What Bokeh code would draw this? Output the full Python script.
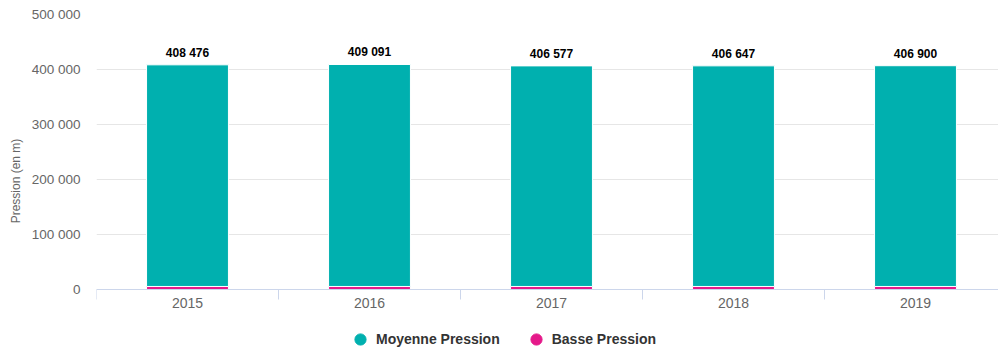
import numpy as np
from bokeh.plotting import figure
from bokeh.models import (ColumnDataSource, FixedTicker, CustomJSTickFormatter,
                          Legend, LegendItem, Range1d, LinearAxis)
from bokeh.core.properties import value
from bokeh.embed import file_html
from bokeh.resources import INLINE

years = [2015, 2016, 2017, 2018, 2019]
moyenne = [402976, 403591, 401077, 401147, 401400]
basse = [5500, 5500, 5500, 5500, 5500]
totals = [408476, 409091, 406577, 406647, 406900]
y_ticks = [0, 100000, 200000, 300000, 400000, 500000]

TEAL = "#00b0af"
PINK = "#e5198a"
FONT = "Liberation Sans"

src = ColumnDataSource(dict(
    x=years, moyenne=moyenne, basse=basse, total=totals,
    label=[f"{v:,}".replace(",", " ") for v in totals],
))

# frame runs to the bottom of the canvas; the x axis is pinned at y = 0
p = figure(width=998, height=347, output_backend="svg", toolbar_location=None,
           x_range=Range1d(2014.5, 2014.5 + 902 / 182),
           y_range=Range1d(-500000 * 58 / 275, 500000),
           min_border_left=96, min_border_right=0, min_border_top=14,
           min_border_bottom=0, x_axis_location=None, y_axis_location=None)
p.outline_line_color = None

rs = p.vbar_stack(["basse", "moyenne"], x="x", width=0.45, source=src,
                  color=[PINK, TEAL], line_color="white", line_width=1)

p.text(x="x", y="total", text="label", source=src, text_align="center",
       text_baseline="bottom", y_offset=-5, text_font=value(FONT),
       text_font_style="bold", text_font_size="12px", text_color="#000000")

# y axis
yaxis = LinearAxis(ticker=FixedTicker(ticks=y_ticks))
yaxis.formatter = CustomJSTickFormatter(code="return tick.toFixed(0).replace(/\\B(?=(\\d{3})+(?!\\d))/g, ' ');")
yaxis.axis_line_color = None
yaxis.major_tick_line_color = None
yaxis.minor_tick_line_color = None
yaxis.major_tick_out = 0
yaxis.major_tick_in = 0
yaxis.major_label_text_font = FONT
yaxis.major_label_text_font_size = "13.5px"
yaxis.major_label_text_color = "#666666"
yaxis.major_label_standoff = 16
yaxis.axis_label = "Pression (en m)"
yaxis.axis_label_text_font = FONT
yaxis.axis_label_text_font_size = "12px"
yaxis.axis_label_text_font_style = "normal"
yaxis.axis_label_text_color = "#666666"
yaxis.axis_label_standoff = 6
p.add_layout(yaxis, "left")

# x axis
xaxis = LinearAxis(ticker=FixedTicker(ticks=years,
                                      minor_ticks=[2014.5, 2015.5, 2016.5, 2017.5, 2018.5, 2019.5]),
                   fixed_location=0)
xaxis.axis_line_color = "#ccd6eb"
xaxis.major_tick_line_color = None
xaxis.major_tick_out = 0
xaxis.major_tick_in = 0
xaxis.minor_tick_line_color = "#ccd6eb"
xaxis.minor_tick_in = 0
xaxis.minor_tick_out = 10
xaxis.major_label_text_font = FONT
xaxis.major_label_text_font_size = "14px"
xaxis.major_label_text_color = "#666666"
xaxis.major_label_standoff = -2
p.add_layout(xaxis, "below")

p.xgrid.visible = False
p.ygrid.ticker = FixedTicker(ticks=y_ticks)
p.ygrid.grid_line_color = "#e6e6e6"

# legend with circle markers (renderers hold no visible point)
hidden = ColumnDataSource(dict(x=np.array([np.nan]), y=np.array([np.nan])))
c1 = p.scatter("x", "y", source=hidden, size=11, color=TEAL, marker="circle")
c2 = p.scatter("x", "y", source=hidden, size=11, color=PINK, marker="circle")
legend = Legend(items=[LegendItem(label="Moyenne Pression", renderers=[c1]),
                       LegendItem(label="Basse Pression", renderers=[c2])],
                orientation="horizontal", location=(250, -6))
legend.label_text_font = FONT
legend.label_text_font_style = "bold"
legend.label_text_font_size = "14px"
legend.label_text_color = "#333333"
legend.border_line_color = None
legend.background_fill_alpha = 0
legend.glyph_width = 28
legend.glyph_height = 28
legend.label_standoff = 2
legend.spacing = 22
legend.padding = 0
legend.margin = 0
p.add_layout(legend, "center")

open("out.html", "w").write(file_html(p, INLINE))
